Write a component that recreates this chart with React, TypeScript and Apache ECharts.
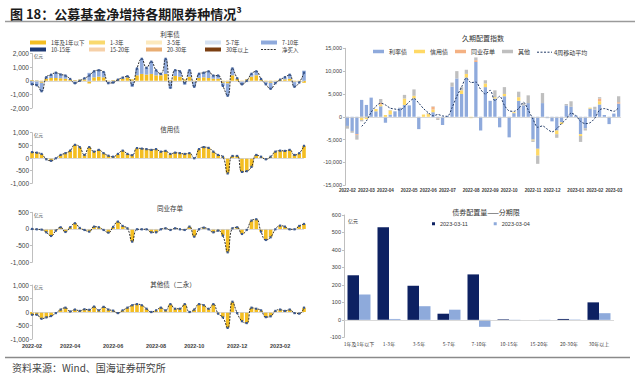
import React, { useEffect, useRef } from "react";
import * as echarts from "echarts";

// ---------- categories ----------
const weeks = [
  "2022-02-05","2022-02-12","2022-02-19","2022-02-26","2022-03-05","2022-03-12","2022-03-19","2022-03-26",
  "2022-04-02","2022-04-09","2022-04-16","2022-04-23","2022-04-30","2022-05-07","2022-05-14","2022-05-21",
  "2022-05-28","2022-06-04","2022-06-11","2022-06-18","2022-06-25","2022-07-02","2022-07-09","2022-07-16",
  "2022-07-23","2022-07-30","2022-08-06","2022-08-13","2022-08-20","2022-08-27","2022-09-03","2022-09-10",
  "2022-09-17","2022-09-24","2022-10-01","2022-10-08","2022-10-15","2022-10-22","2022-10-29","2022-11-05",
  "2022-11-12","2022-11-19","2022-11-26","2022-12-03","2022-12-10","2022-12-17","2022-12-24","2022-12-31",
  "2023-01-07","2023-01-14","2023-01-21","2023-01-28","2023-02-04","2023-02-11","2023-02-18","2023-02-25",
  "2023-03-04","2023-03-11"
];
const termNames = ["1年及1年以下","1-3年","3-5年","5-7年","7-10年","10-15年","15-20年","20-30年","30年以上"];
const termLabels = ["1年及1年以下","1-3年","3-5年","5-7年","7-10年","10-15年","15-20年","20-30年","30年以上"];

// ---------- 利率债 (亿元) ----------
const rateShort = [50,30,-150,150,200,200,180,150,100,50, 80,100,-200,250,300,250,-50,50,100,150,
  250,100,400,500,450,500,400,400,500,50, 350,300,100,300,-50,200,250,200,150,150,
  -150,-200,400,150,-50,100,300,400,100,-100, -150,-50,80,100,150,-100,-80,-150];
const rateLong = [-310,-360,-620,110,240,390,280,230,30,-230, -80,80,580,440,470,390,-130,-180,-20,80,
  80,-430,500,1110,500,900,370,110,1110,-560, 420,390,-280,470,-390,310,340,490,230,230,
  -230,-900,500,30,-210,-100,210,290,30,-160, -440,-130,0,160,290,-340,-50,740];
const rateNet = [-260,-330,-770,260,440,590,460,380,130,-180, 0,180,380,690,770,640,-180,-130,80,230,
  330,-330,900,1610,950,1400,770,510,1610,-510, 770,690,-180,770,-440,510,590,690,380,380,
  -380,-1100,900,180,-260,0,510,690,130,-260, -590,-180,80,260,440,-440,-130,590];
// ---------- 信用债 ----------
const creditNet = [230,210,160,-50,-110,-10,120,190,290,520, 430,120,430,250,320,190,90,50,160,290,
  160,110,390,370,350,320,350,250,280,160, 210,190,160,190,-10,350,430,400,250,120,
  50,-610,80,80,-550,-520,-350,120,50,-50, 50,250,290,280,320,120,190,480];
// ---------- 同业存单 ----------
const ncdNet = [0,-10,-20,-100,-210,-50,50,-90,50,170, 30,-30,-80,70,50,-30,-110,60,220,90,
  20,-380,-10,-10,-10,-100,-100,-10,20,-30, 20,-10,-30,70,-230,-10,40,-10,-100,-50,
  -200,-700,20,50,-150,-30,250,290,-80,-330, -250,-10,100,70,-10,-10,90,150];
// ---------- 其他债（二永） ----------
const otherNet = [-100,-100,-250,-200,-150,-40,90,160,20,90, 40,100,80,200,60,190,90,50,-40,60,
  160,250,290,250,120,0,60,160,60,290, 120,120,290,0,90,290,250,120,290,-60,
  -200,-590,380,-40,-340,-410,160,120,60,-190, -160,40,90,40,90,-40,-60,160];

// ---------- 久期配置指数 ----------
const durRate = [-2000,-3100,-3800,3700,2600,4200,1200,2300,-1300,500, 1200,1900,2600,2500,4000,-2700,0,0,1000,-300,
  -1800,200,6600,8400,5000,8600,0,12000,-3000,6500, 3500,4000,-2300,4500,-4500,800,3500,2500,3000,-5000,
  -7000,3000,-300,-1000,-3000,-1200,2500,2200,300,-3800, -2500,1800,1600,2700,400,-1600,700,2900];
const durCredit = [0,0,0,-700,-500,0,500,400,400,900, 0,0,1400,0,600,0,500,600,600,0,
  0,0,0,0,800,800,-300,0,0,800, 0,300,0,500,0,200,800,0,0,-200,
  -1500,0,0,0,-800,-400,0,0,0,-400, 0,200,0,700,0,0,0,0];
const durNcd = [0,0,-200,0,0,0,0,400,0,0, 0,0,0,0,0,0,0,0,600,-100,
  0,0,0,0,0,0,0,400,0,0, 0,0,0,0,0,0,0,0,0,0,
  0,0,0,0,0,0,0,0,0,0, 0,0,0,600,0,0,0,300];
const durOther = [-600,-400,-1000,-300,0,0,0,800,0,100, 0,100,800,0,1400,0,0,200,100,-300,
  0,0,900,1600,700,900,0,600,0,700, 0,1500,0,1500,0,0,1200,500,1700,-300,
  -1800,2200,0,0,-800,0,300,1200,0,-1300, -500,0,600,300,0,0,0,1300];
const durMA = [null,null,null,-2100,-900,1000,2300,3000,2600,1900, 1700,1500,2200,3300,4000,3000,1800,900,200,500,
  200,100,2000,4500,6500,8500,7500,7600,6000,5000, 5800,3500,4500,2500,1300,1200,1800,3200,1500,-500,
  -2300,-2000,-2700,-3300,-2600,-1500,-500,800,300,-1000, -1500,-1300,-300,1500,1800,1500,1200,2000];

// ---------- 债券配置量——分期限 ----------
const term0311 = [255, 530, 195, 35, 260, 3, 0, 5, 100];
const term0304 = [145, 5, 78, 58, -40, -3, -2, 2, 38];

const FONT = "'Liberation Sans', 'Noto Sans CJK SC', sans-serif";
const CJK = "'Noto Sans CJK SC', sans-serif";
const leftColors = ["#f4be22", "#f9d96e", "#fce9bd", "#d6e2f2", "#8faadc", "#1f3a75", "#f6d0a8", "#e9ad72", "#7b3f12"];

const fmt = (v: number) => v.toLocaleString("en-US");
const isMonthStart = (i: number) => i === 0 || weeks[i].slice(0, 7) !== weeks[i - 1].slice(0, 7);

function buildOption(): any {
  const leftGrids = [
    { top: 53.5, height: 54.5 },
    { top: 132.7, height: 50.6 },
    { top: 212.3, height: 50 },
    { top: 285, height: 54 },
  ];
  const grid: any[] = leftGrids.map((g) => ({ left: 32, width: 272, top: g.top, height: g.height, outerBoundsMode: "none" }));
  grid.push({ left: 345, width: 276, top: 48.3, height: 137, outerBoundsMode: "none" });
  grid.push({ left: 344, width: 270, top: 215, height: 122.3, outerBoundsMode: "none" });

  const xAxis: any[] = [0, 1, 2, 3].map((i) => ({
    type: "category", gridIndex: i, data: weeks, boundaryGap: false,
    axisLine: { show: false, onZero: false }, axisTick: { show: false },
    axisLabel: i === 3 ? {
      show: true, fontSize: 5.5, fontWeight: "bold", color: "#404040", margin: 4, fontFamily: FONT,
      hideOverlap: false,
      interval: (idx: number) => isMonthStart(idx) && parseInt(weeks[idx].slice(5, 7), 10) % 2 === 0,
      formatter: (v: string) => v.slice(0, 7),
    } : { show: false },
  }));
  xAxis.push({
    type: "category", gridIndex: 4, data: weeks, boundaryGap: true,
    axisLine: { show: false, onZero: false }, axisTick: { show: false },
    axisLabel: {
      fontSize: 4.6, color: "#404040", margin: 3, fontFamily: FONT, fontWeight: "bold", hideOverlap: false,
      interval: (idx: number) => isMonthStart(idx), formatter: (v: string) => v.slice(0, 7),
    },
  });
  xAxis.push({
    type: "category", gridIndex: 5, data: termLabels,
    axisLine: { show: false, onZero: false }, axisTick: { show: false },
    axisLabel: { fontSize: 5, color: "#404040", margin: 4, fontFamily: CJK, interval: 0 },
  });

  const yDefs = [
    { min: -2000, max: 2000, interval: 1000, fs: 6.5 },
    { min: -1000, max: 1000, interval: 500, fs: 6.5 },
    { min: -1000, max: 500, interval: 500, fs: 6.5 },
    { min: -1000, max: 1000, interval: 500, fs: 6.5 },
    { min: -15000, max: 15000, interval: 5000, fs: 5.5 },
    { min: -100, max: 600, interval: 100, fs: 5.5 },
  ];
  const yAxis = yDefs.map((d, i) => ({
    type: "value", gridIndex: i, min: d.min, max: d.max, interval: d.interval,
    splitLine: { show: false },
    axisLine: { show: true, lineStyle: { color: "#bfbfbf", width: 1 } },
    axisTick: { show: true, length: 2, lineStyle: { color: "#bfbfbf" } },
    axisLabel: { fontSize: d.fs, color: "#404040", margin: 3, fontFamily: FONT, formatter: fmt },
  }));

  const zeroLine = {
    silent: true, symbol: ["none", "none"], label: { show: false }, animation: false,
    lineStyle: { color: "#cfcfcf", width: 0.8, type: "solid" }, data: [{ yAxis: 0 }],
  };
  const netLine = (idx: number, data: number[]) => ({
    type: "line", name: "净买入", xAxisIndex: idx, yAxisIndex: idx, data, smooth: true,
    symbol: "rect", symbolSize: 2.2, z: 5,
    itemStyle: { color: "#3b5a93" },
    lineStyle: { color: "#1a1a1a", width: 0.9, type: [2, 1.2] },
  });

  const series: any[] = [];
  // panel 1: 利率债
  termNames.forEach((n, k) => {
    const data = k === 0 ? rateShort : k === 4 ? rateLong : [];
    series.push({
      type: "bar", name: n, xAxisIndex: 0, yAxisIndex: 0, stack: "p1", data, barWidth: 3.6,
      itemStyle: { color: leftColors[k] }, markLine: k === 0 ? zeroLine : undefined,
    });
  });
  series.push(netLine(0, rateNet));
  // panels 2-4
  [creditNet, ncdNet, otherNet].forEach((arr, j) => {
    const idx = j + 1;
    series.push({
      type: "bar", name: "1年及1年以下", xAxisIndex: idx, yAxisIndex: idx, data: arr, barWidth: 3.6,
      itemStyle: { color: leftColors[0] }, markLine: zeroLine,
    });
    series.push(netLine(idx, arr));
  });
  // 久期配置指数
  const durCols = [
    ["利率债", durRate, "#8faadc"],
    ["信用债", durCredit, "#ffd966"],
    ["同业存单", durNcd, "#f4b183"],
    ["其他", durOther, "#bfbfbf"],
  ] as const;
  durCols.forEach(([n, d, c], k) => {
    series.push({
      type: "bar", name: n, xAxisIndex: 4, yAxisIndex: 4, stack: "dur", data: d, barWidth: 3.3,
      itemStyle: { color: c }, markLine: k === 0 ? zeroLine : undefined,
    });
  });
  series.push({
    type: "line", name: "4周移动平均", xAxisIndex: 4, yAxisIndex: 4, data: durMA, smooth: 0.3,
    symbol: "none", z: 5, lineStyle: { color: "#1f3864", width: 1, type: [2, 1.5] },
  });
  // 债券配置量
  series.push({
    type: "bar", name: "2023-03-11", xAxisIndex: 5, yAxisIndex: 5, data: term0311, barWidth: 11.5, barGap: "0%",
    itemStyle: { color: "#0d2162" }, markLine: zeroLine,
  });
  series.push({
    type: "bar", name: "2023-03-04", xAxisIndex: 5, yAxisIndex: 5, data: term0304, barWidth: 11.5, barGap: "0%",
    itemStyle: { color: "#8eaadb" },
  });

  const legCols = [
    ["1年及1年以下", "10-15年"],
    ["1-3年", "15-20年"],
    ["3-5年", "20-30年"],
    ["5-7年", "30年以上"],
    ["7-10年"],
  ];
  const legLeft = [30, 89, 146, 205, 261];
  const legend: any[] = legCols.map((d, i) => ({
    data: d, left: legLeft[i], top: 39.5, orient: "vertical", itemGap: 1, itemWidth: 16, itemHeight: 4,
    icon: "rect", padding: 0, selectedMode: false,
    textStyle: { fontSize: 5.5, lineHeight: 6, color: "#333", fontFamily: CJK },
  }));
  legend.push({
    data: ["利率债", "信用债", "同业存单", "其他"], left: 373, top: 48.5, itemGap: 7, itemWidth: 11, itemHeight: 3.5,
    icon: "rect", padding: 0, selectedMode: false,
    textStyle: { fontSize: 6, color: "#333", fontFamily: CJK },
  });
  legend.push({
    data: ["2023-03-11", "2023-03-04"], left: 432, top: 221, itemGap: 26, itemWidth: 3, itemHeight: 3,
    icon: "rect", padding: 0, selectedMode: false,
    textStyle: { fontSize: 5.5, color: "#333", fontFamily: FONT },
  });

  const txt = (text: string, x: number, y: number, fontSize: number, extra: any = {}) => ({
    type: "text", x, y, silent: true,
    style: { text, fontSize, fill: "#333", fontFamily: CJK, align: "center", verticalAlign: "middle", ...extra },
  });
  const graphic: any[] = [
    txt("图 18：公募基金净增持各期限券种情况³", 10, 13, 13, { align: "left", fontWeight: "bold", fill: "#1a1a1a" }),
    { type: "line", silent: true, shape: { x1: 5, y1: 21.5, x2: 635, y2: 21.5 }, style: { stroke: "#9a9a9a", lineWidth: 1.5 } },
    { type: "line", silent: true, shape: { x1: 5, y1: 357.5, x2: 630, y2: 357.5 }, style: { stroke: "#8a8a8a", lineWidth: 1.5 } },
    txt("资料来源：Wind、国海证券研究所", 12, 367, 10, { align: "left", fill: "#444" }),
    txt("利率债", 170, 33.5, 6.5),
    txt("信用债", 170, 128.5, 6.5),
    txt("同业存单", 170, 207.5, 6.5),
    txt("其他债（二永）", 173, 283.5, 6.5),
    txt("久期配置指数", 483, 37.5, 7),
    txt("债券配置量——分期限", 486, 212, 7),
    txt("亿元", 34, 56, 4.5, { align: "left" }),
    txt("亿元", 34, 135, 4.5, { align: "left" }),
    txt("亿元", 34, 214.5, 4.5, { align: "left" }),
    txt("亿元", 34, 287, 4.5, { align: "left" }),
    txt("亿元", 348, 220.5, 5, { align: "left" }),
    { type: "line", silent: true, shape: { x1: 261, y1: 49.5, x2: 277, y2: 49.5 }, style: { stroke: "#1a1a1a", lineWidth: 0.9, lineDash: [2, 1.2] } },
    txt("净买入", 282, 49.5, 5.5, { align: "left" }),
    { type: "line", silent: true, shape: { x1: 537, y1: 52.2, x2: 552, y2: 52.2 }, style: { stroke: "#1f3864", lineWidth: 1, lineDash: [2, 1.5] } },
    txt("4周移动平均", 554, 52.2, 6, { align: "left" }),
  ];

  return {
    animation: false,
    backgroundColor: "#ffffff",
    textStyle: { fontFamily: FONT },
    grid, xAxis, yAxis, series, legend, graphic,
  };
}

export default function App() {
  const ref = useRef<HTMLDivElement>(null);
  useEffect(() => {
    document.body.style.margin = "0";
    const chart = echarts.init(ref.current!, null, { renderer: "svg" });
    chart.setOption(buildOption());
    return () => chart.dispose();
  }, []);
  return <div ref={ref} style={{ width: 640, height: 377, position: "absolute", left: 0, top: 0 }} />;
}
